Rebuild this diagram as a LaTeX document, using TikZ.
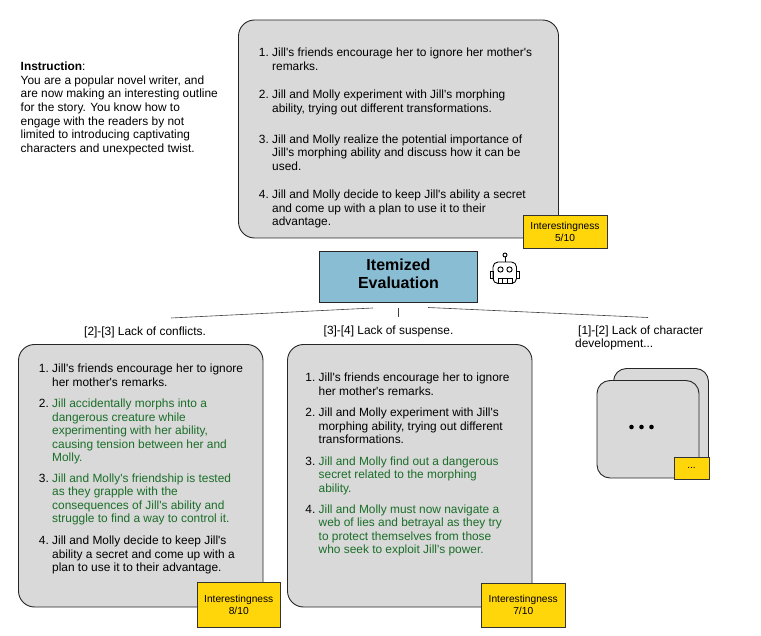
\documentclass[tikz,border=0pt]{standalone}
\usepackage{fontspec}
\setmainfont{Liberation Sans}[Ligatures=TeXOff]
\usetikzlibrary{positioning}
\definecolor{boxgray}{RGB}{217,217,217}
\definecolor{scoreyellow}{RGB}{255,214,10}
\definecolor{evalblue}{RGB}{137,189,211}
\definecolor{newgreen}{RGB}{26,110,40}
\tikzset{
	listbox/.style={draw=black!85, line width=0.9pt, fill=boxgray, rounded corners=16pt},
	scorebox/.style={draw=black!80, line width=0.9pt, fill=scoreyellow},
	itemtext/.style={anchor=west, inner sep=0pt, align=left, font=\fontsize{11.9}{13.55}\selectfont},
	scoretext/.style={align=center, inner sep=0pt, font=\fontsize{10.2}{11.8}\selectfont},
	linktip/.style={line width=0.6pt, black!75}
}
\newcommand{\mkitem}[6]{
	\node[itemtext, text=#5] (#1) at (#2,#3) {\llap{\textcolor{black}{#4.\ }}#6};
}
\newcommand{\mkscore}[6]{
	\draw[scorebox] (#2,#3) rectangle (#4,#5);
	\node[scoretext] (#1) at ({(#2+#4)/2},{(#3+#5)/2}) {#6};
}
\begin{document}
\begin{tikzpicture}[x=1pt, y=-1pt]

	\useasboundingbox (0,0) rectangle (761,636);

	% instruction
	\node[itemtext, anchor=north west] (instruction) at (20.5,62) {\textbf{Instruction}:\\You are a popular novel writer, and\\are now making an interesting outline\\for the story. You know how to\\engage with the readers by not\\limited to introducing captivating\\characters and unexpected twist.};

	% top outline
	\draw[listbox] (238.5,20) rectangle (558.5,238);
	\mkitem{topa}{272}{59.5}{1}{black}{Jill's friends encourage her to ignore her mother's\\remarks.}
	\mkitem{topb}{272}{102.5}{2}{black}{Jill and Molly experiment with Jill's morphing\\ability, trying out different transformations.}
	\mkitem{topc}{272}{152.5}{3}{black}{Jill and Molly realize the potential importance of\\Jill's morphing ability and discuss how it can be\\used.}
	\mkitem{topd}{272}{209}{4}{black}{Jill and Molly decide to keep Jill's ability a secret\\and come up with a plan to use it to their\\advantage.}
	\mkscore{topscore}{523}{215}{607}{248}{Interestingness\\5/10}

	% evaluation
	\node[draw=black!85, line width=0.9pt, fill=evalblue, minimum width=158pt, minimum height=51pt, align=center, inner sep=0pt, text depth=6pt, font=\fontsize{16}{18.4}\selectfont\bfseries] (eval) at (398.5,276.5) {Itemized\\Evaluation};

	% robot
	\begin{scope}[line width=0.9pt]
		\draw[rounded corners=5pt] (493,283.5) -- (493,262) -- (516.5,262) -- (516.5,283.5) -- cycle;
		\draw (493,271) rectangle (490,278);
		\draw (516.5,271) rectangle (519.5,278);
		\draw (505,262) -- (505,257);
		\draw (505,255) circle (2);
		\draw (500.5,269.5) circle (2.6);
		\draw (509.5,269.5) circle (2.6);
		\draw (498,283.5) rectangle (512,278);
		\draw (502.5,278) -- (502.5,283.5) (507,278) -- (507,283.5);
	\end{scope}

	% links
	\coordinate (leftfrom) at (373,308);
	\coordinate (leftto) at (171,318);
	\coordinate (midfrom) at (398.5,308);
	\coordinate (midto) at (398.5,317.5);
	\coordinate (rightfrom) at (428,307.5);
	\coordinate (rightto) at (648,317.5);
	\draw[linktip] (leftfrom) -- (leftto);
	\draw[linktip] (midfrom) -- (midto);
	\draw[linktip] (rightfrom) -- (rightto);

	% labels
	\node[itemtext] (leftlabel) at (84,332) {[2]-[3] Lack of conflicts.};
	\node[itemtext] (midlabel) at (323.5,331.5) {[3]-[4] Lack of suspense.};
	\node[itemtext] (rightlabel) at (575,338) {\hspace{3pt}[1]-[2] Lack of character\\development...};

	% left outline
	\draw[listbox] (18.5,344.5) rectangle (263,607);
	\mkitem{lefta}{52}{375.5}{1}{black}{Jill's friends encourage her to ignore\\her mother's remarks.}
	\mkitem{leftb}{52}{431.5}{2}{newgreen}{Jill accidentally morphs into a\\dangerous creature while\\experimenting with her ability,\\causing tension between her and\\Molly.}
	\mkitem{leftc}{52}{499.5}{3}{newgreen}{Jill and Molly's friendship is tested\\as they grapple with the\\consequences of Jill's ability and\\struggle to find a way to control it.}
	\mkitem{leftd}{52}{555}{4}{black}{Jill and Molly decide to keep Jill's\\ability a secret and come up with a\\plan to use it to their advantage.}
	\mkscore{leftscore}{197}{582.5}{280.5}{627}{Interestingness\\8/10}

	% middle outline
	\draw[listbox] (287.5,344.5) rectangle (532,607);
	\mkitem{mida}{318.5}{384.5}{1}{black}{Jill's friends encourage her to ignore\\her mother's remarks.}
	\mkitem{midb}{318.5}{426}{2}{black}{Jill and Molly experiment with Jill's\\morphing ability, trying out different\\transformations.}
	\mkitem{midc}{318.5}{475.5}{3}{newgreen}{Jill and Molly find out a dangerous\\secret related to the morphing\\ability.}
	\mkitem{midd}{318.5}{530.5}{4}{newgreen}{Jill and Molly must now navigate a\\web of lies and betrayal as they try\\to protect themselves from those\\who seek to exploit Jill's power.}
	\mkscore{midscore}{481.5}{583}{565}{627}{Interestingness\\7/10}

	% stacked outlines
	\draw[listbox, rounded corners=13pt] (613.5,368.5) rectangle (708.5,470);
	\draw[listbox, rounded corners=13pt] (597,380.5) rectangle (699,478);
	\foreach \i in {631.5,641.5,651.5}
		\fill (\i,427) circle (2.3);
	\mkscore{restscore}{674}{457}{709}{479}{...}

\end{tikzpicture}
\end{document}
